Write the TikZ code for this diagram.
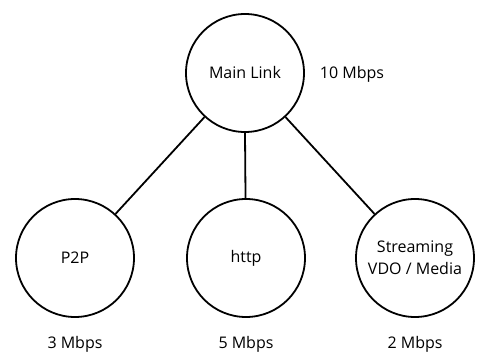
\documentclass[tikz,border=0pt]{standalone}
\usepackage{fontspec}
\setmainfont{Open Sans}
\begin{document}
\begin{tikzpicture}[x=1pt,y=-1pt,
  bubble/.style={circle,draw,line width=1.8pt,minimum size=118pt,inner sep=0pt,align=center,font=\fontsize{16}{22}\selectfont},
  rate/.style={font=\fontsize{16}{20}\selectfont},
  link/.style={line width=1.8pt}]
\useasboundingbox (0,0) rectangle (477,353);
\node[bubble] (main) at (245,73) {Main Link};
\node[bubble] (p2p) at (75,258) {P2P};
\node[bubble] (http) at (246,258) {http};
\node[bubble] (stream) at (415,258) {Streaming\\VDO / Media};
\node[rate] (r10) at (352,74) {10 Mbps};
\node[rate] (r3) at (75,344) {3 Mbps};
\node[rate] (r5) at (246,344) {5 Mbps};
\node[rate] (r2) at (415,344) {2 Mbps};
\draw[link] (main) -- (p2p);
\draw[link] (main.south) -- (http);
\draw[link] (main) -- (stream);
\end{tikzpicture}
\end{document}
